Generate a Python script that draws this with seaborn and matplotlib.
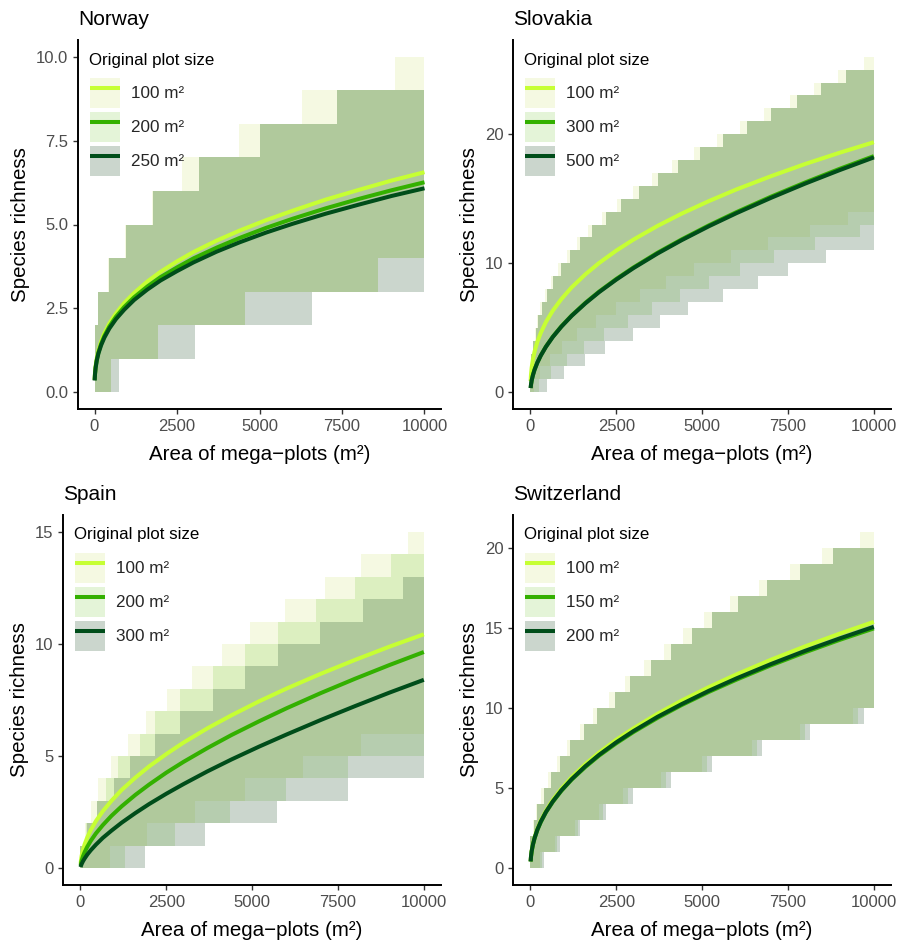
import numpy as np
import pandas as pd
import matplotlib
matplotlib.use("Agg")
import matplotlib.pyplot as plt
import seaborn as sns
from matplotlib.patches import Patch
from matplotlib.lines import Line2D
from matplotlib.legend_handler import HandlerTuple

sns.set_theme(style="ticks")
plt.rcParams['font.family'] = ['Liberation Sans', 'DejaVu Sans']

# ---------------- data ----------------
AREA = [5, 15, 35, 70, 120, 200, 300, 450, 650, 900, 1200, 1600, 2000, 2500,
        3000, 3700, 4400, 5200, 6000, 7000, 8000, 9000, 10000]
RIB_X = [0, 10000]

countries = ["Norway", "Slovakia", "Spain", "Switzerland"]
nor_sizes = ["100 m²", "200 m²", "250 m²"]
svk_sizes = ["100 m²", "300 m²", "500 m²"]
esp_sizes = ["100 m²", "200 m²", "300 m²"]
che_sizes = ["100 m²", "150 m²", "200 m²"]

# fitted curves (species richness at AREA)
nor_fit_100 = [0.38, 0.57, 0.79, 1.02, 1.25, 1.51, 1.76, 2.05, 2.35, 2.66, 2.96, 3.30,
               3.59, 3.90, 4.18, 4.52, 4.82, 5.13, 5.41, 5.74, 6.03, 6.31, 6.56]
nor_fit_200 = [0.36, 0.55, 0.75, 0.97, 1.19, 1.44, 1.68, 1.96, 2.25, 2.54, 2.83, 3.15,
               3.43, 3.72, 3.99, 4.31, 4.60, 4.90, 5.17, 5.48, 5.76, 6.02, 6.26]
nor_fit_250 = [0.35, 0.53, 0.73, 0.95, 1.16, 1.40, 1.63, 1.90, 2.18, 2.46, 2.75, 3.06,
               3.33, 3.61, 3.87, 4.19, 4.47, 4.76, 5.02, 5.32, 5.59, 5.85, 6.08]
svk_fit_100 = [0.86, 1.35, 1.91, 2.53, 3.16, 3.90, 4.60, 5.44, 6.32, 7.22, 8.13, 9.14,
               10.02, 10.98, 11.83, 12.89, 13.84, 14.82, 15.72, 16.74, 17.69, 18.56, 19.38]
svk_fit_300 = [0.33, 0.58, 0.91, 1.32, 1.76, 2.30, 2.85, 3.54, 4.30, 5.11, 5.95, 6.93,
               7.80, 8.78, 9.67, 10.81, 11.84, 12.94, 13.96, 15.15, 16.26, 17.31, 18.30]
svk_fit_500 = [0.32, 0.58, 0.91, 1.31, 1.75, 2.29, 2.84, 3.52, 4.28, 5.08, 5.92, 6.89,
               7.76, 8.73, 9.62, 10.75, 11.78, 12.87, 13.88, 15.06, 16.17, 17.21, 18.20]
esp_fit_100 = [0.20, 0.36, 0.56, 0.80, 1.06, 1.38, 1.70, 2.10, 2.54, 3.00, 3.49, 4.04,
               4.54, 5.09, 5.60, 6.24, 6.82, 7.44, 8.01, 8.67, 9.29, 9.88, 10.43]
esp_fit_200 = [0.11, 0.21, 0.34, 0.52, 0.71, 0.96, 1.22, 1.55, 1.92, 2.33, 2.76, 3.27,
               3.73, 4.26, 4.74, 5.36, 5.94, 6.55, 7.13, 7.81, 8.45, 9.06, 9.64]
esp_fit_300 = [0.05, 0.11, 0.19, 0.30, 0.43, 0.61, 0.80, 1.05, 1.35, 1.67, 2.03, 2.46,
               2.86, 3.32, 3.75, 4.32, 4.85, 5.42, 5.96, 6.61, 7.23, 7.83, 8.40]
che_fit_100 = [0.43, 0.72, 1.08, 1.49, 1.92, 2.45, 2.96, 3.58, 4.26, 4.96, 5.68, 6.50,
               7.22, 8.02, 8.73, 9.64, 10.46, 11.31, 12.10, 13.01, 13.85, 14.64, 15.38]
che_fit_150 = [0.42, 0.70, 1.05, 1.45, 1.87, 2.38, 2.88, 3.49, 4.14, 4.83, 5.53, 6.32,
               7.03, 7.80, 8.50, 9.38, 10.18, 11.01, 11.77, 12.66, 13.48, 14.25, 14.97]
che_fit_200 = [0.42, 0.71, 1.06, 1.46, 1.88, 2.40, 2.90, 3.51, 4.17, 4.86, 5.56, 6.37,
               7.08, 7.86, 8.56, 9.45, 10.24, 11.08, 11.85, 12.74, 13.57, 14.34, 15.07]

# ribbons: value at x=0, then areas where the bound rises by one species
nor_up_start = [2, 2, 2]
nor_up_100 = [100, 420, 920, 1750, 2650, 4380, 6280, 9110]
nor_up_200 = [120, 435, 940, 1770, 3170, 5010, 7340]
nor_up_250 = [120, 435, 940, 1770, 3170, 5010, 7340]
nor_lo_start = [0, 0, 0]
nor_lo_100 = [500, 1920, 4550, 8600]
nor_lo_200 = [500, 1920, 4550, 8600]
nor_lo_250 = [740, 3050, 6580]

svk_up_start = [2, 2, 2]
svk_up_100 = [20, 60, 120, 190, 290, 420, 590, 800, 1060, 1350, 1690, 2080, 2520,
              3000, 3540, 4130, 4770, 5420, 6100, 6800, 7550, 8250, 8950, 9700]
svk_up_300 = [30, 80, 150, 230, 340, 480, 660, 880, 1150, 1450, 1800, 2200, 2650,
              3150, 3700, 4300, 4950, 5600, 6300, 7000, 7750, 8450, 9200]
svk_up_500 = [30, 80, 150, 230, 340, 480, 660, 880, 1150, 1450, 1800, 2200, 2650,
              3150, 3700, 4300, 4950, 5600, 6300, 7000, 7750, 8450, 9200]
svk_lo_start = [0, 0, 0]
svk_lo_100 = [100, 290, 580, 920, 1360, 1900, 2500, 3200, 3950, 4750, 5850, 6920, 8130, 9250]
svk_lo_300 = [250, 600, 1050, 1550, 2150, 2850, 3550, 4350, 5200, 6100, 7100, 8300, 9600]
svk_lo_500 = [480, 970, 1600, 2180, 2990, 3780, 4600, 5610, 6630, 7500, 8610]

esp_up_start = [1, 1, 1]
esp_up_100 = [145, 310, 500, 890, 1370, 1920, 2520, 3240, 4110, 4940, 5950, 7120, 8180, 9540]
esp_up_200 = [170, 485, 730, 1100, 1740, 2180, 2900, 3870, 4800, 5760, 6870, 7990, 9050]
esp_up_300 = [195, 485, 970, 1450, 2180, 2900, 3870, 4800, 5760, 6970, 8220, 9400]
esp_lo_start = [0, 0, 0]
esp_lo_100 = [870, 1940, 3340, 4790, 6490, 8180]
esp_lo_200 = [1310, 2760, 4360, 6000, 7790]
esp_lo_300 = [1890, 3630, 5710, 7790]

che_up_start = [2, 2, 2]
che_up_100 = [70, 160, 320, 520, 760, 1050, 1430, 1830, 2300, 2750, 3300, 3900, 4450,
              5050, 5800, 6650, 7550, 8500, 9600]
che_up_150 = [100, 200, 380, 600, 850, 1150, 1550, 1950, 2450, 2900, 3500, 4100, 4700,
              5300, 6050, 6900, 7850, 8800]
che_up_200 = [100, 200, 380, 600, 850, 1150, 1550, 1950, 2450, 2900, 3500, 4100, 4700,
              5300, 6050, 6900, 7850, 8800]
che_lo_start = [0, 0, 0]
che_lo_100 = [290, 720, 1300, 2000, 2700, 3800, 5000, 6450, 7840, 9390]
che_lo_150 = [330, 780, 1380, 2100, 2850, 3950, 5150, 6600, 8000, 9550]
che_lo_200 = [380, 850, 1450, 2200, 3000, 4100, 5300, 6750, 8150, 9700]

# ---------------- style ----------------
LINE_COLS = ["#c6ff33", "#33b000", "#004d1a"]
FILL_COLS = [(205/255, 225/255, 110/255), (120/255, 200/255, 60/255), (20/255, 70/255, 30/255)]
FILL_ALPHA = [0.2, 0.2, 0.22]

panels = [
    dict(title="Norway", sizes=nor_sizes, fits=[nor_fit_100, nor_fit_200, nor_fit_250],
         up_start=nor_up_start, ups=[nor_up_100, nor_up_200, nor_up_250],
         lo_start=nor_lo_start, los=[nor_lo_100, nor_lo_200, nor_lo_250],
         ylim=(-0.5, 10.5), yticks=[0, 2.5, 5, 7.5, 10], fmt="{:.1f}",
         rect=[78/900, 1-409/942, 363/900, 369/942]),
    dict(title="Slovakia", sizes=svk_sizes, fits=[svk_fit_100, svk_fit_300, svk_fit_500],
         up_start=svk_up_start, ups=[svk_up_100, svk_up_300, svk_up_500],
         lo_start=svk_lo_start, los=[svk_lo_100, svk_lo_300, svk_lo_500],
         ylim=(-1.3, 27.3), yticks=[0, 10, 20], fmt="{:.0f}",
         rect=[513.3/900, 1-409/942, 377.7/900, 369/942]),
    dict(title="Spain", sizes=esp_sizes, fits=[esp_fit_100, esp_fit_200, esp_fit_300],
         up_start=esp_up_start, ups=[esp_up_100, esp_up_200, esp_up_300],
         lo_start=esp_lo_start, los=[esp_lo_100, esp_lo_200, esp_lo_300],
         ylim=(-0.75, 15.75), yticks=[0, 5, 10, 15], fmt="{:.0f}",
         rect=[63.3/900, 1-885/942, 377.7/900, 370/942]),
    dict(title="Switzerland", sizes=che_sizes, fits=[che_fit_100, che_fit_150, che_fit_200],
         up_start=che_up_start, ups=[che_up_100, che_up_150, che_up_200],
         lo_start=che_lo_start, los=[che_lo_100, che_lo_150, che_lo_200],
         ylim=(-1.05, 22.05), yticks=[0, 5, 10, 15, 20], fmt="{:.0f}",
         rect=[513.3/900, 1-885/942, 377.7/900, 370/942]),
]


def step_eval(start, breaks, grid):
    xs = np.array([RIB_X[0]] + list(breaks), float)
    vals = start + np.arange(len(xs))
    idx = np.searchsorted(xs, grid, side="right") - 1
    return vals[np.clip(idx, 0, len(vals) - 1)]


fig = plt.figure(figsize=(9, 9.42), dpi=100)
fig.patch.set_facecolor("white")

for p in panels:
    ax = fig.add_axes(p["rect"])
    ax.set_facecolor("white")
    # ribbons
    for i in range(3):
        grid = np.unique(np.concatenate([RIB_X, p["ups"][i], p["los"][i]]).astype(float))
        up = step_eval(p["up_start"][i], p["ups"][i], grid)
        lo = step_eval(p["lo_start"][i], p["los"][i], grid)
        ax.fill_between(grid, lo, up, step="post", color=FILL_COLS[i],
                        alpha=FILL_ALPHA[i], linewidth=0, zorder=1)
    # fitted curves
    df = pd.DataFrame({
        "area": AREA * 3,
        "richness": p["fits"][0] + p["fits"][1] + p["fits"][2],
        "size": sum([[s] * len(AREA) for s in p["sizes"]], []),
    })
    sns.lineplot(data=df, x="area", y="richness", hue="size", hue_order=p["sizes"],
                 palette=LINE_COLS, linewidth=2.9, legend=False, ax=ax, zorder=3,
                 estimator=None, sort=True)
    for ln in ax.lines:
        ln.set_solid_capstyle("butt")
        ln.set_solid_joinstyle("round")

    ax.set_xlim(-500, 10500)
    ax.set_ylim(*p["ylim"])
    ax.set_xticks([0, 2500, 5000, 7500, 10000])
    ax.set_xticklabels(["0", "2500", "5000", "7500", "10000"])
    ax.set_yticks(p["yticks"])
    ax.set_yticklabels([p["fmt"].format(v) for v in p["yticks"]])
    ax.tick_params(axis="both", labelsize=12, labelcolor="#4d4d4d", color="#333333",
                   length=3.6, width=1.0, pad=3.5, direction="out")
    sns.despine(ax=ax)
    for s in ["left", "bottom"]:
        ax.spines[s].set_linewidth(1.4)
        ax.spines[s].set_color("black")
    ax.set_xlabel("Area of mega\u2212plots (m²)", fontsize=14.8, color="black", labelpad=8)
    ax.set_ylabel("Species richness", fontsize=14.8, color="black", labelpad=4)
    ax.set_title(p["title"], loc="left", fontsize=15, color="black", pad=10.5)

    # legend
    w_px = p["rect"][2] * 900
    h_px = p["rect"][3] * 942
    handles = [(Patch(facecolor=FILL_COLS[i] + (FILL_ALPHA[i],), edgecolor="none"),
                Line2D([], [], color=LINE_COLS[i], linewidth=2.9, solid_capstyle="butt"))
               for i in range(3)]
    ax.text(11 / w_px, 1 - 20 / h_px, "Original plot size", transform=ax.transAxes,
            ha="left", va="center", fontsize=12.2, color="black", zorder=5)
    leg = ax.legend(handles, p["sizes"], handler_map={tuple: HandlerTuple(ndivide=1, pad=0)},
                    loc="upper left", bbox_to_anchor=(12 / w_px, 1 - 38 / h_px),
                    frameon=False, fontsize=12.3, handlelength=1.75, handleheight=2.32,
                    labelspacing=0.23, handletextpad=0.64, borderpad=0, borderaxespad=0)
    leg.set_zorder(5)

fig.savefig("out.png", dpi=100, facecolor="white")
